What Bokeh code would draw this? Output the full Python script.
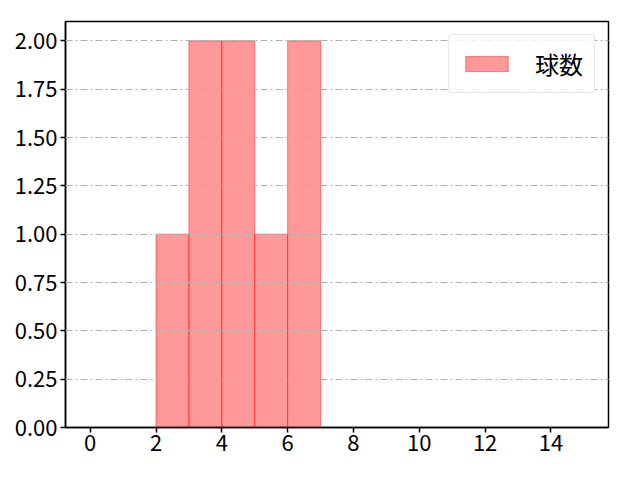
from bokeh.plotting import figure
from bokeh.models import Range1d, FixedTicker, PrintfTickFormatter, Legend, LegendItem
from bokeh.embed import file_html
from bokeh.resources import INLINE

bin_edges = list(range(0, 16))
counts = [0, 0, 1, 2, 2, 1, 2, 0, 0, 0, 0, 0, 0, 0, 0]
x_ticks = [0, 2, 4, 6, 8, 10, 12, 14]
y_ticks = [0, 0.25, 0.5, 0.75, 1.0, 1.25, 1.5, 1.75, 2.0]
series_label = "球数"

FONT = "Noto Sans CJK JP"

p = figure(width=624, height=464, output_backend="svg", toolbar_location=None,
           x_range=Range1d(-0.75, 15.75), y_range=Range1d(0, 2.1),
           min_border_left=65, min_border_right=16, min_border_top=21, min_border_bottom=37)

r = p.quad(left=bin_edges[:-1], right=bin_edges[1:], bottom=0, top=counts,
           fill_color="red", fill_alpha=0.4, line_color="red", line_alpha=0.45, line_width=1)

p.xgrid.visible = False
p.ygrid.grid_line_color = "#b0b0b0"
p.ygrid.grid_line_dash = "7 3 2 3"
p.ygrid.grid_line_width = 1
p.ygrid.level = "annotation"

p.outline_line_color = "black"
p.outline_line_width = 1.5
p.outline_line_alpha = 1

for ax in (p.xaxis[0], p.yaxis[0]):
    ax.axis_line_color = "black"
    ax.axis_line_width = 1.5
    ax.major_tick_line_width = 1.5
    ax.major_tick_out = 5
    ax.major_tick_in = 0
    ax.minor_tick_line_color = None
    ax.major_label_text_font = FONT
    ax.major_label_text_font_size = "22px"
    ax.major_label_text_color = "black"

p.xaxis.ticker = FixedTicker(ticks=x_ticks)
p.yaxis.ticker = FixedTicker(ticks=y_ticks)
p.yaxis.formatter = PrintfTickFormatter(format="%.2f")
p.xaxis.major_label_standoff = 2
p.yaxis.major_label_standoff = 3

legend = Legend(items=[LegendItem(label=series_label, renderers=[r])], location="top_right")
legend.label_text_font = FONT
legend.label_text_font_size = "24px"
legend.label_text_color = "black"
legend.glyph_width = 53
legend.glyph_height = 19
legend.label_standoff = 22
legend.padding = 11
legend.margin = 13
legend.border_line_color = "#d0d0d0"
legend.border_line_width = 1
legend.border_radius = 4
legend.background_fill_alpha = 0.8
p.add_layout(legend)

open("out.html", "w").write(file_html(p, INLINE))
